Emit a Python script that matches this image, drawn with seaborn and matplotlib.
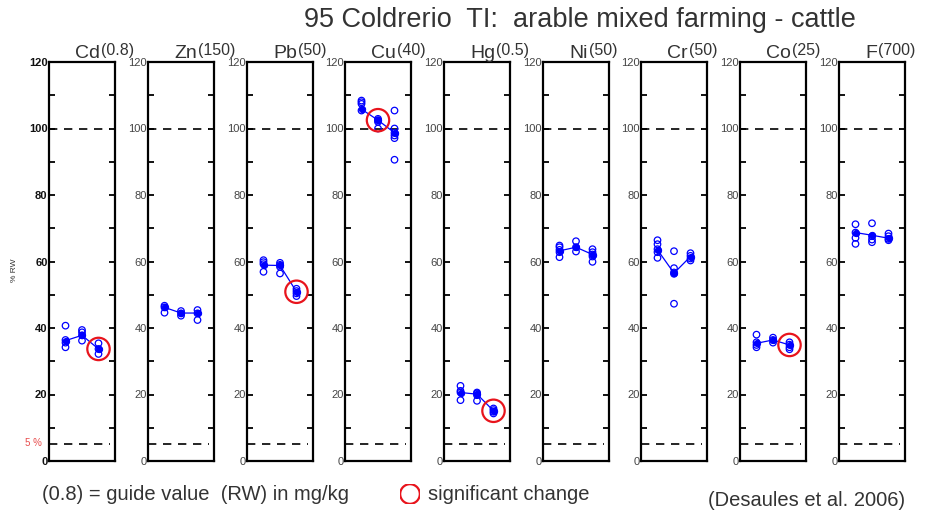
import numpy as np
import pandas as pd
import matplotlib
matplotlib.use("Agg")
import matplotlib.pyplot as plt
import seaborn as sns
from matplotlib.ticker import MultipleLocator

sns.set_theme(style="white")
plt.rcParams['font.family'] = ['Liberation Sans', 'DejaVu Sans']

# ---------------- data ----------------
elements = ["Cd", "Zn", "Pb", "Cu", "Hg", "Ni", "Cr", "Co", "F"]
guide_values = ["(0.8)", "(150)", "(50)", "(40)", "(0.5)", "(50)", "(50)", "(25)", "(700)"]
time_points = [1, 2, 3]

cd_samples = [[40.7, 36.4, 35.6, 34.2], [39.4, 38.7, 37.8, 36.2], [35.4, 33.7, 32.2]]
zn_samples = [[46.7, 46.2, 44.6], [45.1, 44.4, 43.7], [45.4, 44.4, 42.4]]
pb_samples = [[60.4, 59.8, 59.2, 56.9], [59.6, 59.0, 58.4, 56.4], [51.8, 51.1, 50.4, 49.6]]
cu_samples = [[108.4, 107.9, 107.4, 105.4], [102.9, 102.5, 102.0, 100.0],
              [105.4, 100.0, 98.7, 97.9, 97.1, 90.6]]
hg_samples = [[22.6, 21.1, 20.6, 18.3], [20.6, 20.3, 19.8, 18.1], [15.8, 15.3, 14.8, 14.3]]
ni_samples = [[64.8, 64.3, 63.5, 62.8, 61.3], [66.1, 64.3, 63.0], [63.7, 62.8, 62.1, 61.5, 59.9]]
cr_samples = [[66.4, 65.2, 63.7, 62.8, 61.1], [63.1, 58.0, 56.7, 56.3, 47.3], [62.5, 61.7, 60.9, 60.3]]
co_samples = [[38.0, 35.7, 34.9, 34.2], [37.1, 36.4, 35.6], [35.7, 35.0, 34.2, 33.6]]
f_samples = [[71.2, 68.7, 67.1, 65.3], [71.5, 67.6, 66.6, 65.8], [68.4, 67.6, 66.8, 66.4]]

cd_means = [36.2, 37.8, 33.7]
zn_means = [46.2, 44.5, 44.5]
pb_means = [58.9, 58.8, 50.9]
cu_means = [105.8, 102.5, 98.7]
hg_means = [20.6, 20.1, 15.1]
ni_means = [63.2, 64.3, 62.1]
cr_means = [63.5, 56.5, 61.5]
co_means = [35.4, 36.4, 34.9]
f_means = [68.7, 67.9, 67.0]

# time point index (1..3) that shows a significant change, None if no change
significant = [3, None, 3, 2, 3, None, None, 3, None]

samples = [cd_samples, zn_samples, pb_samples, cu_samples, hg_samples,
           ni_samples, cr_samples, co_samples, f_samples]
means = [cd_means, zn_means, pb_means, cu_means, hg_means,
         ni_means, cr_means, co_means, f_means]

y_ticks = [0, 20, 40, 60, 80, 100, 120]
upper_line = 100
lower_line = 5

# ---------------- figure ----------------
W, H = 930, 515
fig = plt.figure(figsize=(W / 100, H / 100), dpi=100)

panel_left_px = [49, 148, 247, 345, 444, 543, 641, 740, 839]
panel_w_px = 66
top_px, bottom_px = 62, 461

blue = "#0000ff"
red = "#e8141c"
txt = "#333333"

fig.canvas.draw()
renderer = fig.canvas.get_renderer()

for i, el in enumerate(elements):
    ax = fig.add_axes([panel_left_px[i] / W, 1 - bottom_px / H,
                       panel_w_px / W, (bottom_px - top_px) / H])
    rows = []
    for t, vals in zip(time_points, samples[i]):
        for v in vals:
            rows.append({"t": t, "value": v})
    df = pd.DataFrame(rows)
    sns.scatterplot(data=df, x="t", y="value", ax=ax, marker="o", s=22,
                    facecolor="none", edgecolor=blue, linewidth=0.9, zorder=3)
    mdf = pd.DataFrame({"t": time_points, "value": means[i]})
    sns.lineplot(data=mdf, x="t", y="value", ax=ax, color=blue, lw=0.9,
                 marker="o", markersize=4.5, markeredgecolor=blue,
                 markerfacecolor=blue, zorder=4)
    if significant[i] is not None:
        k = significant[i] - 1
        sdf = pd.DataFrame({"t": [time_points[k]], "value": [means[i][k]]})
        sns.scatterplot(data=sdf, x="t", y="value", ax=ax, s=260, marker="o",
                        facecolor="none", edgecolor=red, linewidth=1.6, zorder=5)

    ax.axhline(upper_line, xmin=0, xmax=0.93, color="black", lw=1.2,
               ls=(0, (5, 4)), zorder=1)
    ax.axhline(lower_line, xmin=0, xmax=0.93, color="black", lw=1.2,
               ls=(0, (5, 4)), zorder=1)

    ax.set_xlim(0, 4)
    ax.set_ylim(0, 120)
    ax.set_xticks([])
    ax.set_yticks(y_ticks)
    ax.yaxis.set_minor_locator(MultipleLocator(10))
    ax.set_xlabel("")
    ax.set_ylabel("")
    for sp in ax.spines.values():
        sp.set_visible(True)
        sp.set_color("black")
        sp.set_linewidth(1.6)
    ax.tick_params(axis="y", which="both", direction="in", left=True, right=True,
                   length=4, width=1.3, color="black", pad=1)
    ax.tick_params(axis="y", which="major", labelsize=8,
                   labelcolor="#111111" if i == 0 else "#444444")
    if i == 0:
        for lab in ax.get_yticklabels():
            lab.set_fontweight("bold")
    ax.set_facecolor("white")

    # panel title: element + guide value
    tx = (panel_left_px[i] + 26) / W
    t1 = fig.text(tx, 1 - 58 / H, el, fontsize=14, color=txt, ha="left", va="baseline")
    bb = t1.get_window_extent(renderer=renderer)
    fig.text(bb.x1 / W + 1 / W, 1 - 55 / H, guide_values[i], fontsize=11.5,
             color=txt, ha="left", va="baseline")

# main title
fig.text(580 / W, 1 - 20 / H, "95 Coldrerio  TI:  arable mixed farming - cattle",
         fontsize=19.5, color=txt, ha="center", va="center")

# axis annotations
fig.text(15 / W, 1 - 270 / H, "% RW", fontsize=6, color=txt, rotation=90,
         ha="center", va="center")
fig.text(42 / W, 1 - 443 / H, "5 %", fontsize=7, color="#e84c4c",
         ha="right", va="center")

# footer
fig.text(42 / W, 1 - 494 / H, "(0.8) = guide value  (RW) in mg/kg", fontsize=14.5,
         color=txt, ha="left", va="center")
leg_ax = fig.add_axes([400 / W, 1 - 504 / H, 20 / W, 20 / H])
sns.scatterplot(x=[0], y=[0], ax=leg_ax, s=200, marker="o", facecolor="none",
                edgecolor=red, linewidth=1.6)
leg_ax.set_xlim(-1, 1)
leg_ax.set_ylim(-1, 1)
leg_ax.axis("off")
fig.text(428 / W, 1 - 494 / H, "significant change", fontsize=14.5, color=txt,
         ha="left", va="center")
fig.text(905 / W, 1 - 500 / H, "(Desaules et al. 2006)", fontsize=14.5, color=txt,
         ha="right", va="center")

fig.savefig("out.png", dpi=100, facecolor="white")
